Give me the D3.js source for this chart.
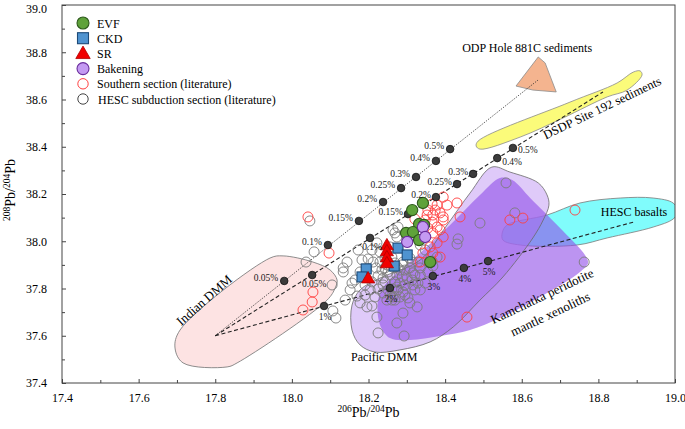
<!DOCTYPE html>
<html><head><meta charset="utf-8">
<script src="https://cdn.jsdelivr.net/npm/d3@7"></script>
<style>
body{margin:0;background:#fff;}
svg text{font-family:"Liberation Serif","Times New Roman",serif;fill:#000;}
</style></head><body>
<svg id="c" width="685" height="429" font-family="Liberation Serif, Times New Roman, serif"></svg>
<script>
// ---------- axis definitions ----------
const xDomain = [17.4, 19.0];
const yDomain = [37.4, 39.0];
const xTickValues = [17.4, 17.6, 17.8, 18.0, 18.2, 18.4, 18.6, 18.8, 19.0];
const xTickLabels = ["17.4", "17.6", "17.8", "18.0", "18.2", "18.4", "18.6", "18.8", "19.0"];
const xMinorTicks = [17.5, 17.7, 17.9, 18.1, 18.3, 18.5, 18.7, 18.9];
const yTickValues = [37.4, 37.6, 37.8, 38.0, 38.2, 38.4, 38.6, 38.8, 39.0];
const yTickLabels = ["37.4", "37.6", "37.8", "38.0", "38.2", "38.4", "38.6", "38.8", "39.0"];
const yMinorTicks = [37.5, 37.7, 37.9, 38.1, 38.3, 38.5, 38.7, 38.9];

// ---------- sample series (206Pb/204Pb, 208Pb/204Pb) ----------
const evf = [[18.342,38.162],[18.314,38.132],[18.332,38.073],[18.345,38.069],[18.298,38.035],[18.316,38.039],[18.332,38.005],[18.361,37.912]];
const ckd = [[18.277,37.971],[18.301,37.942],[18.267,37.895],[18.194,37.883],[18.183,37.849]];
const sr = [[18.248,37.984],[18.248,37.959],[18.248,37.933],[18.248,37.908],[18.199,37.844]];
const bakening = [[18.342,38.060],[18.348,38.018],[18.301,37.997]];
const southern = [[18.395,38.187],[18.366,38.158],[18.379,38.153],[18.374,38.132],[18.355,38.132],[18.353,38.111],[18.368,38.111],[18.387,38.120],[18.395,38.103],[18.348,38.090],[18.366,38.081],[18.379,38.060],[18.395,38.090],[18.387,38.048],[18.368,38.035],[18.395,38.018],[18.379,37.993],[18.361,37.976],[18.342,37.950],[18.368,37.950],[18.387,37.933],[18.321,38.094],[18.335,37.912],[18.439,38.103],[18.431,38.162],[18.569,38.090],[18.603,38.098],[18.739,38.132],[18.457,37.679],[18.055,37.785],[18.053,37.743],[18.029,37.709],[18.097,37.950],[18.042,38.103],[18.405,38.153],[18.355,38.056]];
const hesc = [[18.037,37.912],[18.047,38.086],[18.058,37.955],[18.134,37.870],[18.105,37.815],[18.107,37.705],[18.115,37.675],[18.165,37.836],[18.170,37.768],[18.178,37.739],[18.196,37.722],[18.209,37.726],[18.222,37.679],[18.225,37.612],[18.293,37.599],[18.274,37.654],[18.290,37.696],[18.303,37.760],[18.282,37.764],[18.327,37.722],[18.248,37.751],[18.238,37.781],[18.225,37.798],[18.204,37.794],[18.183,37.921],[18.199,37.925],[18.243,37.929],[18.264,38.048],[18.274,38.018],[18.222,37.993],[18.261,37.933],[18.282,37.878],[18.134,37.887],[18.256,37.857],[18.269,37.828],[18.295,37.815],[18.314,37.836],[18.243,37.828],[18.225,37.853],[18.209,37.828],[18.191,37.815],[18.308,37.887],[18.329,37.912],[18.335,37.857],[18.277,37.794],[18.261,37.798],[18.288,37.849],[18.321,37.794],[18.348,37.823],[18.243,37.887],[18.220,37.887],[18.178,37.870],[18.152,37.794],[18.139,37.751],[18.559,38.247],[18.582,38.120],[18.491,38.077],[18.434,38.010],[18.431,37.988],[18.763,37.912],[18.379,37.933],[18.366,37.916],[18.368,37.895],[18.277,38.060],[18.269,38.035],[18.335,37.984],[18.348,37.963],[18.290,37.912],[18.308,37.929],[18.230,37.955],[18.212,37.912],[18.256,37.976],[18.251,37.794],[18.264,37.764],
  [18.230,37.912],[18.248,37.900],[18.269,37.908],[18.295,37.878],[18.316,37.866],[18.274,37.857],[18.238,37.815],[18.290,37.785],[18.329,37.823],[18.217,37.764],[18.191,37.772],[18.157,37.823],[18.144,37.912],[18.173,37.963],[18.209,37.963],[18.335,37.794],[18.355,37.870],[18.314,37.912],[18.261,37.751],[18.277,37.887],
  [18.251,37.870],[18.267,37.887],[18.282,37.823],[18.301,37.844],[18.316,37.815],[18.295,37.772],[18.274,37.806],[18.256,37.772],[18.238,37.844],[18.335,37.887],[18.321,37.857],[18.288,37.900],[18.269,37.751],[18.308,37.739],[18.235,37.878]];

// ---------- reference fields (outlines) ----------
const indianDMM = [[17.695,37.548],[17.708,37.624],[17.943,37.929],[17.977,37.938],[18.055,37.912],[18.100,37.878],[18.118,37.836],[18.113,37.802],[18.092,37.751],[17.857,37.485],[17.831,37.468],[17.716,37.485]];
const pacificDMM = [[18.522,38.314],[18.569,38.293],[18.643,38.247],[18.666,38.196],[18.671,38.153],[18.656,38.090],[18.629,38.014],[18.551,37.849],[18.491,37.751],[18.421,37.637],[18.361,37.574],[18.282,37.540],[18.217,37.531],[18.178,37.561],[18.157,37.624],[18.157,37.730],[18.178,37.794],[18.230,37.844],[18.335,37.921],[18.405,38.069],[18.465,38.204]];
const kamchatka = [[18.543,38.268],[18.575,38.259],[18.622,38.183],[18.700,38.056],[18.765,37.942],[18.773,37.908],[18.752,37.870],[18.648,37.764],[18.543,37.675],[18.465,37.624],[18.387,37.599],[18.308,37.582],[18.256,37.590],[18.230,37.646],[18.225,37.751],[18.243,37.815],[18.308,37.912],[18.413,38.069],[18.491,38.196]];
const hescBasalts = [[18.549,38.035],[18.562,38.069],[18.666,38.111],[18.752,38.162],[18.857,38.183],[18.943,38.183],[18.995,38.162],[19.008,38.124],[18.995,38.094],[18.943,38.060],[18.823,38.014],[18.744,37.984],[18.596,37.984],[18.551,38.005]];
const dsdp = [[18.486,38.424],[18.726,38.589],[18.849,38.670],[18.891,38.716],[18.909,38.721],[18.914,38.704],[18.875,38.640],[18.823,38.611],[18.708,38.522],[18.596,38.441],[18.491,38.390],[18.481,38.403]];
const odp = [[18.643,38.780],[18.661,38.755],[18.690,38.632],[18.629,38.640],[18.585,38.657]];

// ---------- mixing lines ----------
const mixStart = [17.80, 37.60];
const mixEnds = [[18.643,38.683],[18.812,38.632],[18.891,38.081]];
const mix1Pts = [[17.980,37.832],[18.094,37.984],[18.175,38.086],[18.238,38.166],[18.285,38.225],[18.324,38.272],[18.376,38.340],[18.413,38.390]];
const mix1Labels = ["0.05%","0.1%","0.15%","0.2%","0.25%","0.3%","0.4%","0.5%"];
const mix2Pts = [[18.053,37.857],[18.204,38.014],[18.303,38.115],[18.376,38.187],[18.431,38.242],[18.473,38.285],[18.536,38.352],[18.577,38.395]];
const mix2Labels = ["0.05%","0.1%","0.15%","0.2%","0.25%","0.3%","0.4%","0.5%"];
const mix3Pts = [[18.084,37.726],[18.256,37.802],[18.368,37.853],[18.449,37.887],[18.512,37.916]];
const mix3Labels = ["1%","2%","3%","4%","5%"];

const legendNames = ["EVF","CKD","SR","Bakening","Southern section (literature)","HESC subduction section (literature)"];

// ---------- drawing ----------
const FONT = "'Liberation Serif','Times New Roman',serif";
const svg = d3.select("#c");
const L=62, R=675, T=5, B=383;
const x = d3.scaleLinear().domain(xDomain).range([L,R]);
const y = d3.scaleLinear().domain(yDomain).range([B,T]);

svg.append("defs").append("clipPath").attr("id","clip")
  .append("rect").attr("x",L).attr("y",T).attr("width",R-L).attr("height",B-T);
const plot = svg.append("g").attr("clip-path","url(#clip)");

const smooth = d3.line().x(d=>x(d[0])).y(d=>y(d[1])).curve(d3.curveCatmullRomClosed.alpha(0.5));
const poly = d3.line().x(d=>x(d[0])).y(d=>y(d[1])).curve(d3.curveLinearClosed);

plot.append("path").attr("d",smooth(hescBasalts)).attr("fill","#80fcfc").attr("stroke","#7a7a7a").attr("stroke-width",0.8);
plot.append("path").attr("d",smooth(pacificDMM)).attr("fill","#c9a6f5").attr("fill-opacity",0.6).attr("stroke","none");
plot.append("path").attr("d",smooth(kamchatka)).attr("fill","#8f4de8").attr("fill-opacity",0.6).attr("stroke","none");
plot.append("path").attr("d",smooth(pacificDMM)).attr("fill","none").attr("stroke","#6a6a6a").attr("stroke-width",0.8);
plot.append("path").attr("d",smooth(indianDMM)).attr("fill","#fde3e3").attr("stroke","#808080").attr("stroke-width",0.9);
plot.append("path").attr("d",smooth(dsdp)).attr("fill","#fbfb7a").attr("stroke","#8a8a8a").attr("stroke-width",0.8);
plot.append("path").attr("d",poly(odp)).attr("fill","#f4b48f").attr("stroke","#8a8a8a").attr("stroke-width",0.8);

// mixing lines
const dashes = ["1,1.4","4,2.5","4,2.5"];
const widths = [0.9,1.1,1.1];
mixEnds.forEach((e,i)=>{
  plot.append("line").attr("x1",x(mixStart[0])).attr("y1",y(mixStart[1]))
    .attr("x2",x(e[0])).attr("y2",y(e[1]))
    .attr("stroke","#222").attr("stroke-width",widths[i]).attr("stroke-dasharray",dashes[i]);
});

// data points: open circles
plot.append("g").selectAll("circle").data(hesc).join("circle")
  .attr("cx",d=>x(d[0])).attr("cy",d=>y(d[1])).attr("r",5)
  .attr("fill","none").attr("stroke","#7c7c7c").attr("stroke-width",0.9);
plot.append("g").selectAll("circle").data(southern).join("circle")
  .attr("cx",d=>x(d[0])).attr("cy",d=>y(d[1])).attr("r",5)
  .attr("fill","none").attr("stroke","#ff4040").attr("stroke-width",0.9);

// mixing dots
function mixDots(pts){
  plot.append("g").selectAll("circle").data(pts).join("circle")
    .attr("cx",d=>x(d[0])).attr("cy",d=>y(d[1])).attr("r",3.8)
    .attr("fill","#3c3c3c").attr("stroke","#111").attr("stroke-width",0.8);
}
mixDots(mix1Pts); mixDots(mix2Pts); mixDots(mix3Pts);

// symbols
const tri = d3.symbol().type(d3.symbolTriangle).size(75);
plot.append("g").selectAll("circle").data(evf).join("circle")
  .attr("cx",d=>x(d[0])).attr("cy",d=>y(d[1])).attr("r",5.6)
  .attr("fill","#5fa23a").attr("stroke","#2e5a1c").attr("stroke-width",1.1);
plot.append("g").selectAll("rect").data(ckd).join("rect")
  .attr("x",d=>x(d[0])-5).attr("y",d=>y(d[1])-5).attr("width",10).attr("height",10)
  .attr("fill","#4f93d0").attr("stroke","#1d4a78").attr("stroke-width",1.1);
plot.append("g").selectAll("path").data(sr).join("path")
  .attr("d",tri).attr("transform",d=>`translate(${x(d[0])},${y(d[1])+1})`)
  .attr("fill","#f00000").attr("stroke","#b00000").attr("stroke-width",0.8);
plot.append("g").selectAll("circle").data(bakening).join("circle")
  .attr("cx",d=>x(d[0])).attr("cy",d=>y(d[1])).attr("r",5.6)
  .attr("fill","#c49af2").attr("stroke","#6a2d9c").attr("stroke-width",1.1);

// mixing labels
const lab = plot.append("g").attr("font-family",FONT).style("font-size","9.5px");
function mtext(){ return lab.append("text").style("fill","#1a1a1a").style("font-weight","normal"); }
mix1Pts.forEach((p,i)=>{
  mtext().attr("x",x(p[0])-6).attr("y",y(p[1])).attr("text-anchor","end").text(mix1Labels[i]);
});
mix2Pts.forEach((p,i)=>{
  let t = mtext().text(mix2Labels[i]);
  if(i<2){ t.attr("x",x(p[0])+2).attr("y",y(p[1])+12).attr("text-anchor","middle"); }
  else if(i<6){ t.attr("x",x(p[0])-5).attr("y",y(p[1])+1).attr("text-anchor","end"); }
  else { t.attr("x",x(p[0])+5).attr("y",y(p[1])+(i===6?7:5)).attr("text-anchor","start"); }
});
mix3Pts.forEach((p,i)=>{
  mtext().attr("x",x(p[0])+1).attr("y",y(p[1])+14).attr("text-anchor","middle").text(mix3Labels[i]);
});

// field labels
function fieldText(txt, pos, size, rot){
  return svg.append("text").attr("text-anchor","middle").attr("dominant-baseline","central")
    .style("font-size",size+"px")
    .attr("transform",`translate(${x(pos[0])},${y(pos[1])}) rotate(${rot})`).text(txt);
}
fieldText("ODP Hole 881C sediments",[18.614,38.818],12,0);
fieldText("DSDP Site 192 sediments",[18.810,38.564],12.5,-25.5);
fieldText("HESC basalts",[18.893,38.124],12,0);
fieldText("Kamchatka peridotite",[18.653,37.768],13,-25.4);
fieldText("mantle xenoliths",[18.674,37.692],13,-25.4);
fieldText("Indian DMM",[17.771,37.751],13,-41.5);
fieldText("Pacific DMM",[18.241,37.510],12,0);

// frame
svg.append("rect").attr("x",L).attr("y",T).attr("width",R-L).attr("height",B-T)
  .attr("fill","none").attr("stroke","#444").attr("stroke-width",1);

// axes
const xAx = svg.append("g").attr("transform",`translate(0,${B})`)
  .call(d3.axisBottom(x).tickValues(xTickValues).tickFormat((d,i)=>xTickLabels[i]).tickSizeInner(-4).tickSizeOuter(0).tickPadding(10));
const xAxMin = svg.append("g").attr("transform",`translate(0,${B})`)
  .call(d3.axisBottom(x).tickValues(xMinorTicks).tickFormat("").tickSizeInner(-3).tickSizeOuter(0));
const yAx = svg.append("g").attr("transform",`translate(${L},0)`)
  .call(d3.axisLeft(y).tickValues(yTickValues).tickFormat((d,i)=>yTickLabels[i]).tickSizeInner(-4).tickSizeOuter(0).tickPadding(15));
const yAxMin = svg.append("g").attr("transform",`translate(${L},0)`)
  .call(d3.axisLeft(y).tickValues(yMinorTicks).tickFormat("").tickSizeInner(-3).tickSizeOuter(0));
[xAx,xAxMin,yAx,yAxMin].forEach(g=>{
  g.attr("font-family",FONT).attr("font-size",12);
  g.select(".domain").remove();
  g.selectAll("line").attr("stroke","#444");
  g.selectAll("text").style("font-size","12px").style("font-family",FONT).style("fill","#000");
});
// keep the top label fully inside the window
yAx.selectAll(".tick text").filter((d,i)=>i===yTickValues.length-1).attr("dy","0.62em");

// axis titles
const xt = svg.append("text").attr("x",(L+R)/2).attr("y",417).attr("text-anchor","middle").style("font-size","14px");
xt.append("tspan").attr("dy",-5).style("font-size","9.5px").text("206");
xt.append("tspan").attr("dy",5).text("Pb/");
xt.append("tspan").attr("dy",-5).style("font-size","9.5px").text("204");
xt.append("tspan").attr("dy",5).text("Pb");
const yt = svg.append("text").attr("transform",`translate(15,${(T+B)/2-4}) rotate(-90)`).attr("text-anchor","middle").style("font-size","14px");
yt.append("tspan").attr("dy",-5).style("font-size","9.5px").text("208");
yt.append("tspan").attr("dy",5).text("Pb/");
yt.append("tspan").attr("dy",-5).style("font-size","9.5px").text("204");
yt.append("tspan").attr("dy",5).text("Pb");

// legend
const lg = svg.append("g");
const lx = 83, ly0 = 23, ldy = 15.2;
lg.append("circle").attr("cx",lx).attr("cy",ly0).attr("r",6).attr("fill","#5fa23a").attr("stroke","#2e5a1c").attr("stroke-width",1.1);
lg.append("rect").attr("x",lx-5.5).attr("y",ly0+ldy-5.5).attr("width",11).attr("height",11).attr("fill","#4f93d0").attr("stroke","#1d4a78").attr("stroke-width",1.1);
lg.append("path").attr("d",d3.symbol().type(d3.symbolTriangle).size(90)).attr("transform",`translate(${lx},${ly0+2*ldy+1})`).attr("fill","#f00000").attr("stroke","#b00000").attr("stroke-width",0.8);
lg.append("circle").attr("cx",lx).attr("cy",ly0+3*ldy).attr("r",6).attr("fill","#c49af2").attr("stroke","#6a2d9c").attr("stroke-width",1.1);
lg.append("circle").attr("cx",lx).attr("cy",ly0+4*ldy).attr("r",5.2).attr("fill","none").attr("stroke","#ff4040").attr("stroke-width",1);
lg.append("circle").attr("cx",lx).attr("cy",ly0+5*ldy).attr("r",5.2).attr("fill","none").attr("stroke","#444").attr("stroke-width",1);
legendNames.forEach((n,i)=>{
  lg.append("text").attr("x",lx+14+(i===5?1:0)).attr("y",ly0+i*ldy+4.5).style("font-size","12px").text(n);
});
</script>
</body></html>
